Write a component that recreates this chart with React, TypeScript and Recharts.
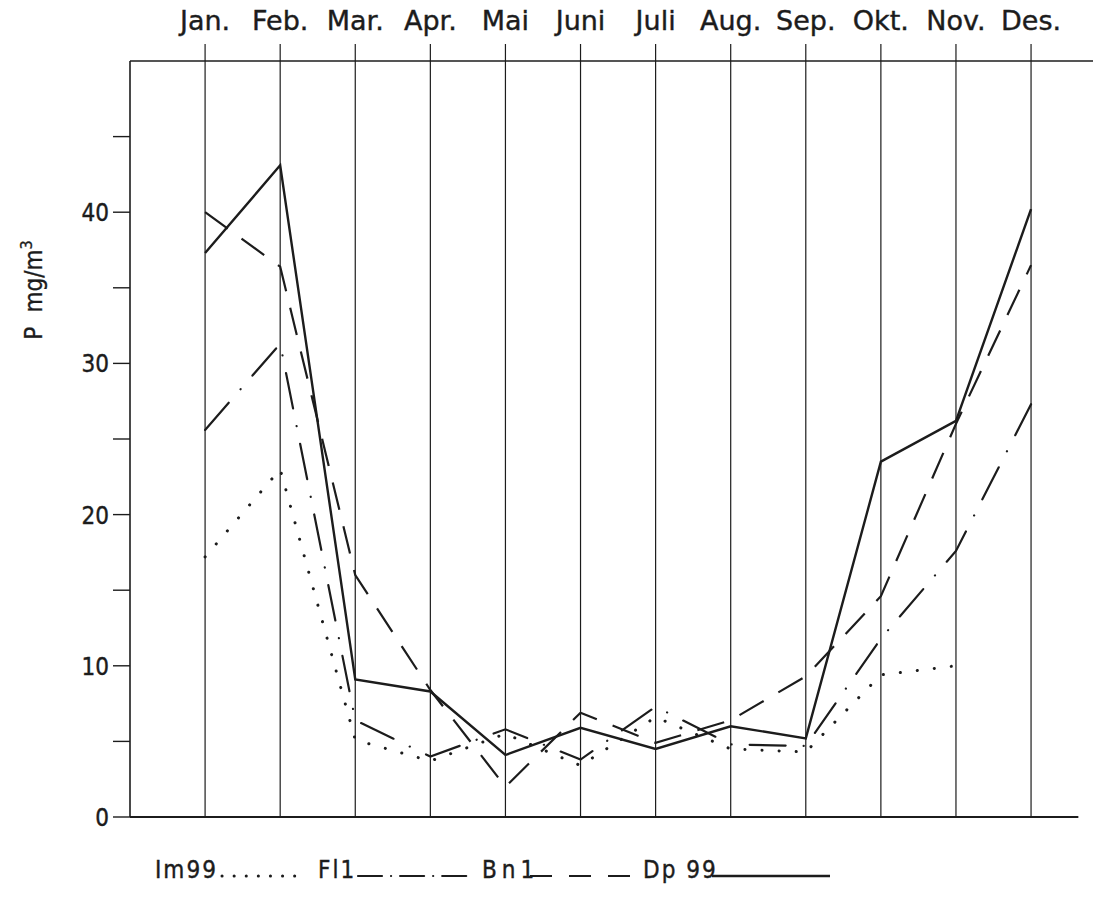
import React from 'react';
import { LineChart, Line, XAxis, YAxis, ReferenceLine } from 'recharts';

const months = ['Jan.', 'Feb.', 'Mar.', 'Apr.', 'Mai', 'Juni', 'Juli', 'Aug.', 'Sep.', 'Okt.', 'Nov.', 'Des.'];
const im99 = [17.2, 23.0, 5.1, 3.7, 5.5, 3.4, 6.6, 4.5, 4.3, 9.4, 10.0, null];
const fl1 = [25.6, 31.3, 6.4, 4.0, 5.8, 3.8, 7.3, 4.8, 4.7, 11.8, 17.6, 27.3];
const bn1 = [40.0, 36.4, 16.0, 8.4, 2.0, 6.9, 4.9, 6.4, 9.3, 14.6, 26.0, 36.5];
const dp99 = [37.3, 43.1, 9.1, 8.3, 4.1, 5.9, 4.5, 6.0, 5.2, 23.5, 26.2, 40.2];
const yTicks = [0, 5, 10, 15, 20, 25, 30, 35, 40, 45];
const monthTicks = [1, 2, 3, 4, 5, 6, 7, 8, 9, 10, 11, 12];
const seriesNames = ['Im99', 'Fl1', 'Bn1', 'Dp 99'];

const data = months.map((m, i) => ({
  x: i + 1,
  month: m,
  im99: im99[i],
  fl1: fl1[i],
  bn1: bn1[i],
  dp99: dp99[i],
}));

const FONT = '"DejaVu Sans", sans-serif';
const FONT_C = '"DejaVu Sans Condensed", "DejaVu Sans", sans-serif';
const INK = '#1c1c1c';

const TopTick = (props: any) => {
  const { x, payload } = props;
  return (
    <text x={x} y={30} textAnchor="middle" fontFamily={FONT} fontSize={27} fill={INK} stroke={INK} strokeWidth={0.4}>
      {months[payload.value - 1]}
    </text>
  );
};

const LeftTick = (props: any) => {
  const { x, y, payload } = props;
  if (payload.value % 10 !== 0) return <g />;
  return (
    <text x={x} y={y} dy={9} textAnchor="end" fontFamily={FONT_C} fontSize={24} fill={INK} stroke={INK} strokeWidth={0.4}>
      {payload.value}
    </text>
  );
};

const YLabel = () => (
  <text
    x={42}
    y={290}
    transform="rotate(-90, 42, 290)"
    textAnchor="middle"
    fontFamily={FONT_C}
    fontSize={24}
    fill={INK}
    stroke={INK}
    strokeWidth={0.3}
  >
    <tspan>P</tspan>
    <tspan dx={14}>mg/m</tspan>
    <tspan dy={-10} fontSize={16}>3</tspan>
  </text>
);

const Legend = () => {
  const ty = 878;
  const ly = 876;
  const txt = { fontFamily: FONT_C, fontSize: 24, fill: INK, stroke: INK, strokeWidth: 0.4, letterSpacing: 2 } as any;
  return (
    <svg width={1093} height={913} style={{ position: 'absolute', left: 0, top: 0, pointerEvents: 'none' }}>
      <text x={155} y={ty} {...txt}>{seriesNames[0]}</text>
      <line x1={222} x2={306} y1={ly} y2={ly} stroke={INK} strokeWidth={3} strokeDasharray="0.1 12" strokeLinecap="round" />
      <text x={318} y={ty} {...txt}>{seriesNames[1]}</text>
      <line x1={358} x2={470} y1={ly} y2={ly} stroke={INK} strokeWidth={2.2} strokeDasharray="24 9 0.1 9" strokeLinecap="round" />
      <text x={482} y={ty} {...txt} letterSpacing={5}>{seriesNames[2]}</text>
      <line x1={530} x2={630} y1={ly} y2={ly} stroke={INK} strokeWidth={2.2} strokeDasharray="22 17" />
      <text x={643} y={ty} {...txt}>{seriesNames[3]}</text>
      <line x1={712} x2={830} y1={ly} y2={ly} stroke={INK} strokeWidth={2.4} />
    </svg>
  );
};

export default function App() {
  return (
    <div style={{ position: 'absolute', left: 0, top: 0, width: 1093, height: 913, background: '#fff' }}>
      <LineChart width={1093} height={913} data={data} margin={{ top: 0, right: 0, bottom: 96, left: 0 }}>
        <XAxis
          dataKey="x"
          type="number"
          orientation="top"
          height={61}
          domain={[0, 12.825]}
          allowDataOverflow
          ticks={monthTicks}
          interval={0}
          tickSize={17}
          tick={<TopTick />}
          axisLine={{ stroke: INK, strokeWidth: 1.5 }}
          tickLine={{ stroke: INK, strokeWidth: 1.2 }}
        />
        <YAxis
          type="number"
          width={130}
          domain={[0, 50]}
          ticks={yTicks}
          interval={0}
          tickSize={17}
          tickMargin={4}
          tick={<LeftTick />}
          axisLine={{ stroke: INK, strokeWidth: 1.6 }}
          tickLine={{ stroke: INK, strokeWidth: 1.4 }}
          label={{ content: <YLabel /> }}
        />
        {monthTicks.map((m) => (
          <ReferenceLine key={m} x={m} stroke={INK} strokeWidth={1.2} />
        ))}
        <ReferenceLine
          segment={[{ x: 0, y: 0 }, { x: 12.63, y: 0 }]}
          stroke={INK}
          strokeWidth={2}
        />
        <Line dataKey="im99" type="linear" stroke={INK} strokeWidth={3} strokeDasharray="0.1 17" strokeLinecap="round" dot={false} isAnimationActive={false} />
        <Line dataKey="fl1" type="linear" stroke={INK} strokeWidth={2.2} strokeDasharray="36 18 0.1 18" strokeLinecap="round" dot={false} isAnimationActive={false} />
        <Line dataKey="bn1" type="linear" stroke={INK} strokeWidth={2.2} strokeDasharray="28 17" dot={false} isAnimationActive={false} />
        <Line dataKey="dp99" type="linear" stroke={INK} strokeWidth={2.4} dot={false} isAnimationActive={false} />
      </LineChart>
      <Legend />
    </div>
  );
}
